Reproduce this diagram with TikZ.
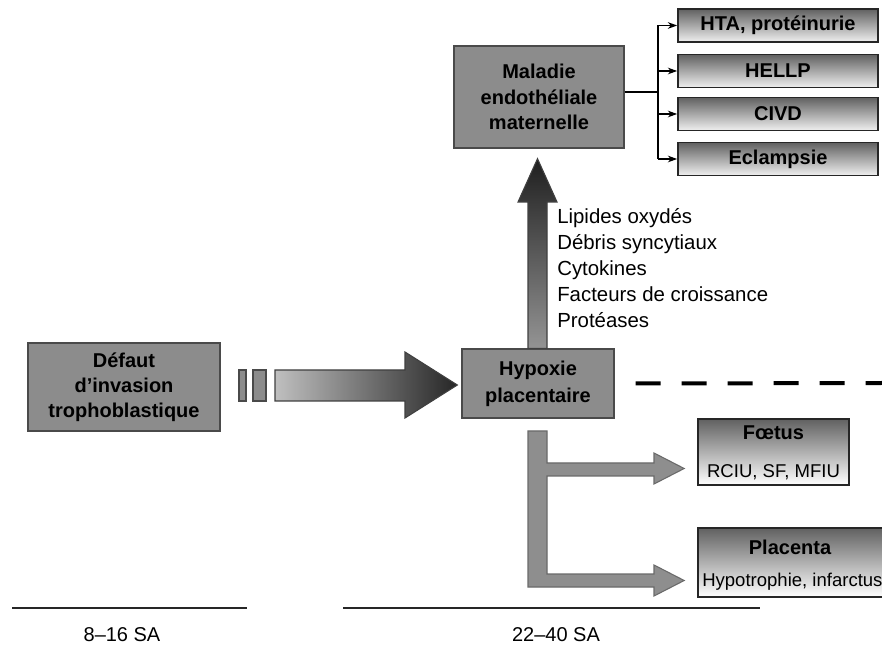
\documentclass[tikz,border=0pt]{standalone}
\usepackage{fontspec}
\setmainfont{Liberation Sans}
\usetikzlibrary{arrows.meta,calc}
\definecolor{boxgray}{HTML}{8C8C8C}
\definecolor{edgegray}{HTML}{4A4A4A}
\definecolor{arrowgray}{HTML}{8E8E8E}
\definecolor{arrowedge}{HTML}{6A6A6A}
\begin{document}
\begin{tikzpicture}[x=0.75pt,y=-0.75pt,
  graybox/.style={draw=edgegray,line width=1pt,fill=boxgray,align=center,
    font=\fontsize{15}{18.75}\selectfont\bfseries,inner sep=0pt},
  outbox/.style={draw=black!85,line width=1.3pt,top color=black!62,bottom color=black!6,
    minimum width=150pt,minimum height=24.75pt,inner sep=0pt,
    font=\fontsize{15}{18}\selectfont\bfseries},
  resbox/.style={draw=black!85,line width=1.2pt,top color=black!62,bottom color=white,inner sep=0pt},
  titletxt/.style={font=\fontsize{15}{18}\selectfont\bfseries,inner sep=0pt},
  subtxt/.style={font=\fontsize{13.9}{16}\selectfont,inner sep=0pt},
  listtxt/.style={font=\fontsize{15.3}{19.5}\selectfont,align=left,inner sep=0pt},
  timetxt/.style={font=\fontsize{15}{18}\selectfont,inner sep=0pt},
  forkarrow/.style={line width=0.9pt,-{Stealth[length=7pt,width=5pt]}},
  timeline/.style={line width=2.2pt,draw=black!85}
]
\clip (0,0) rectangle (882,648);
\fill[white] (0,0) rectangle (882,648);

% main boxes
\node[graybox,minimum width=144pt,minimum height=66pt] (def) at (124,387)
  {Défaut\\d’invasion\\trophoblastique};
\node[graybox,minimum width=114pt,minimum height=51.75pt,
  font=\fontsize{15}{20}\selectfont\bfseries] (hyp) at (538,383.5)
  {Hypoxie\\placentaire};
\node[graybox,minimum width=127.5pt,minimum height=76.5pt,
  font=\fontsize{15}{19}\selectfont\bfseries] (mal) at (539,97)
  {Maladie\\endothéliale\\maternelle};

% right outcome boxes
\node[outbox] (hta) at (778,25.5) {HTA, protéinurie};
\node[outbox] (hellp) at (778,71) {HELLP};
\node[outbox] (civd) at (778,114) {CIVD};
\node[outbox] (ecl) at (778,159) {Eclampsie};

% fork
\coordinate (bus) at (658,92);
\draw[line width=0.9pt] (mal.east |- bus) -- (bus);
\draw[line width=0.9pt] (bus |- hta.west) -- (bus |- ecl.west);
\draw[forkarrow] (bus |- hta.west) -- (hta.west);
\draw[forkarrow] (bus |- hellp.west) -- (hellp.west);
\draw[forkarrow] (bus |- civd.west) -- (civd.west);
\draw[forkarrow] (bus |- ecl.west) -- (ecl.west);

% foetus and placenta boxes
\node[resbox,minimum width=113.25pt,minimum height=49.5pt] (foe) at (773.5,452) {};
\node[titletxt] (foet) at (773.5,433) {Fœtus};
\node[subtxt] (foes) at (773.5,472) {RCIU, SF, MFIU};
\node[resbox,minimum width=153pt,minimum height=51.75pt] (pla) at (800,562.5) {};
\node[titletxt] (plat) at (790,547) {Placenta};
\node[subtxt,anchor=west] (plas) at (702,582) {Hypotrophie, infarctus};

% broken bars and big horizontal arrow
\fill[boxgray,draw=edgegray,line width=0.8pt] (239,370) rectangle (246,401);
\fill[boxgray,draw=edgegray,line width=0.8pt] (253,370) rectangle (266,401);
\coordinate (htip) at ($(hyp.west)+(-4,1.5)$);
\shade[left color=black!25,right color=black!85,draw=black!75,line width=0.8pt]
  (275,370) -- (405,370) -- (405,352) -- (htip) -- (405,418) -- (405,401) -- (275,401) -- cycle;

% up arrow to maladie
\coordinate (utip) at ($(mal.south)+(-1.5,10)$);
\shade[top color=black!88,bottom color=black!42,draw=black!75,line width=0.8pt]
  ($(hyp.north)+(-10,0)$) -- ($(hyp.north |- 0,202)+(-10,0)$) -- ($(hyp.north |- 0,202)+(-20,0)$)
  -- (utip) -- ($(hyp.north |- 0,202)+(19,0)$) -- ($(hyp.north |- 0,202)+(9,0)$)
  -- ($(hyp.north)+(9,0)$) -- cycle;

\node[listtxt,anchor=west] (list) at (557,268.5)
  {Lipides oxydés\\Débris syncytiaux\\Cytokines\\Facteurs de croissance\\Protéases};

% dashed line
\coordinate (dashend) at (882,383);
\draw[line width=3pt,dash pattern=on 18.75pt off 15.75pt] ($(hyp.east)+(21,0)$) -- (dashend);

% L-shaped split arrow
\fill[arrowgray,draw=arrowedge,line width=0.8pt]
  (528,431) -- (547,431) -- (547,463) -- (654,463) -- (654,453) -- ($(foe.west)+(-13,16.5)$)
  -- (654,484) -- (654,476) -- (547,476) -- (547,574) -- (654,574) -- (654,565)
  -- ($(pla.west)+(-13,18)$) -- (654,596) -- (654,587) -- (528,587) -- cycle;

% timeline
\coordinate (t1a) at (12,608); \coordinate (t1b) at (247,608);
\coordinate (t2a) at (343,608); \coordinate (t2b) at (760,608);
\draw[timeline] (t1a) -- (t1b);
\draw[timeline] (t2a) -- (t2b);
\node[timetxt] (lab1) at (122,635) {8–16 SA};
\node[timetxt] (lab2) at (556,635) {22–40 SA};
\end{tikzpicture}
\end{document}
